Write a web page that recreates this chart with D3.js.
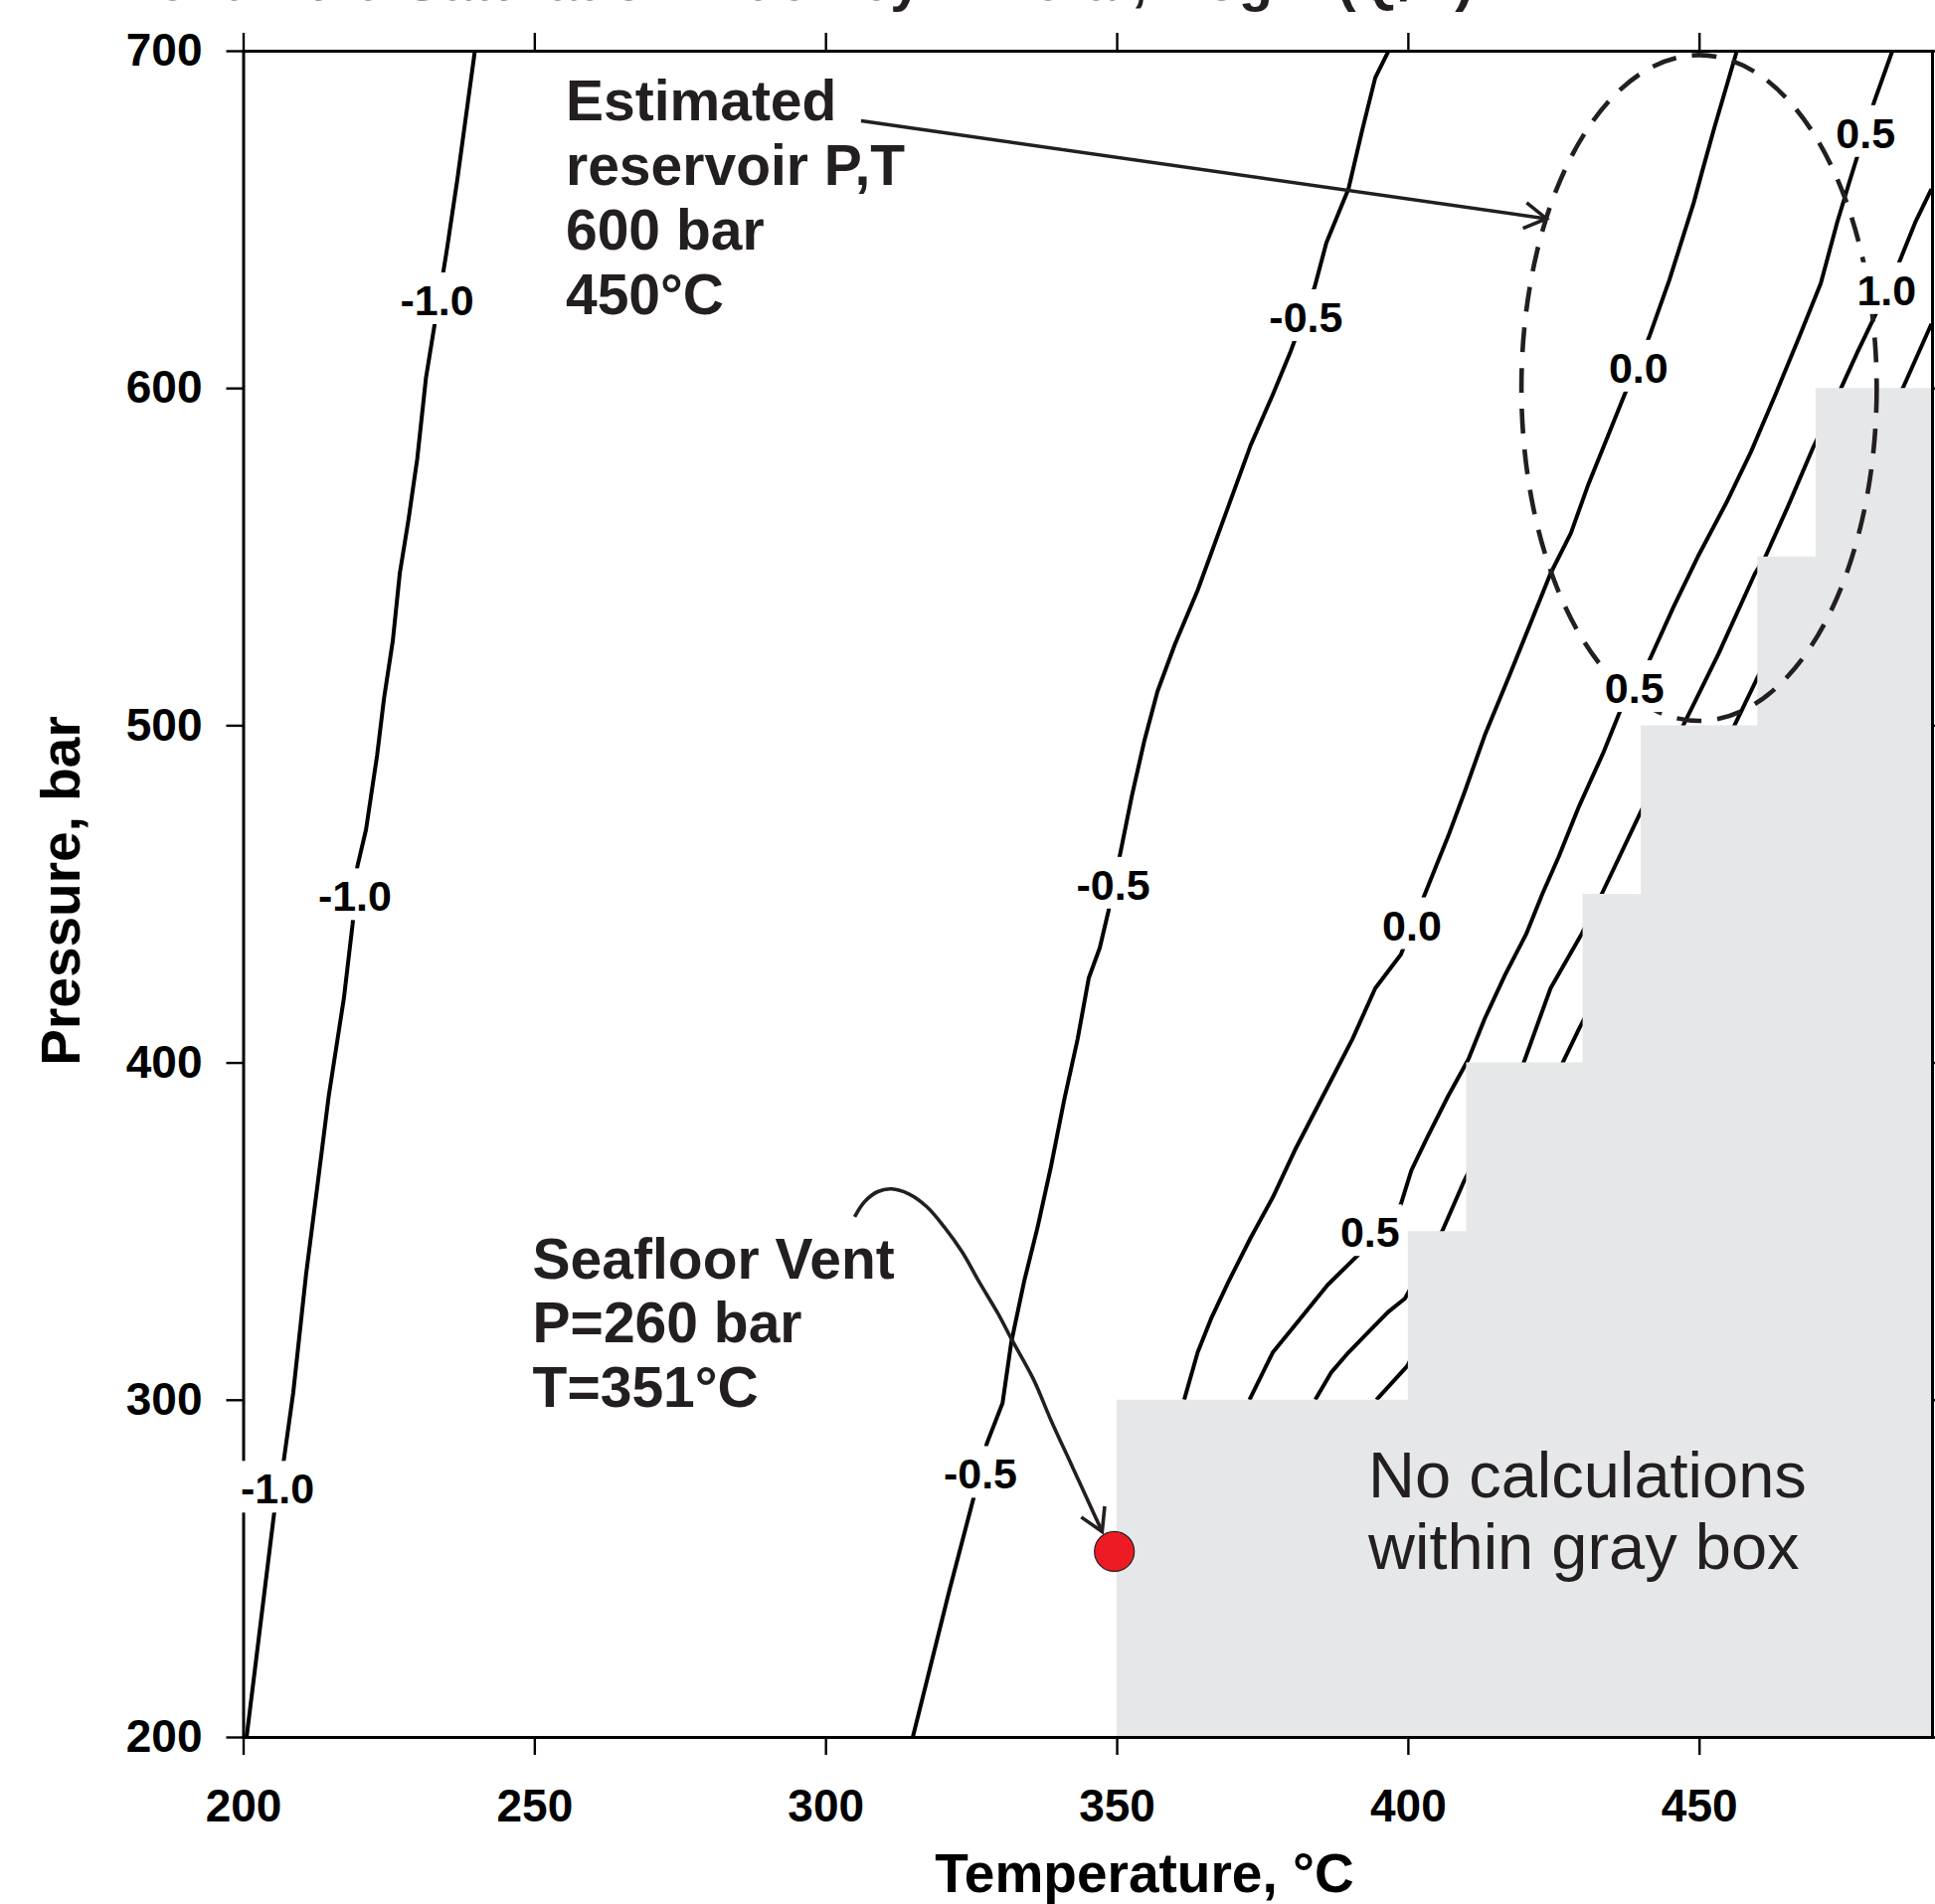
<!DOCTYPE html>
<html>
<head>
<meta charset="utf-8">
<script src="https://cdn.jsdelivr.net/npm/d3@7"></script>
<style>
  body { margin: 0; background: #fff; }
  svg { display: block; font-family: "Liberation Sans", Arial, Helvetica, sans-serif; }
</style>
</head>
<body>
<svg width="1946" height="1915"></svg>
<script>
// axis ticks
const tempTicks = [200, 250, 300, 350, 400, 450];
const pressureTicks = [200, 300, 400, 500, 600, 700];

// contour lines, points are [temperature °C, pressure bar]
const lineMinus10 = [[200.6,200],[205.3,266],[206.9,281],[208.6,302],[210.8,337],[212.8,364],[214.7,390],[217.3,419],[218.8,441],[219.6,458],[221.1,469],[223.0,491],[224.2,508],[225.7,525],[226.9,545],[228.4,561],[229.9,579],[231.4,603],[232.9,619],[234.9,640],[236.8,662],[238.3,681],[239.8,700]];
const lineMinus05 = [[315.0,200],[321.2,243],[325.6,272],[327.7,287],[330.4,299],[331.9,317],[334.1,335],[336.4,351],[338.7,369],[341.0,389],[343.3,407],[345.2,425],[347.1,434],[348.6,445],[350.5,461],[352.6,479],[354.7,495],[357.0,510],[360.0,524],[363.9,540],[369.2,565],[373.0,583],[376.8,598],[379.9,611],[384.0,630],[386.0,643],[389.8,659],[392.1,676],[394.4,692],[396.7,700]];
const lineZero = [[361.6,300],[363.9,314],[366.2,324],[369.2,335],[373.0,348],[376.8,360],[380.6,374],[386.0,392],[390.5,407],[394.4,422],[398.8,432],[402.7,449],[404.8,458],[406.9,467],[409.7,480],[413.2,497],[417.5,515],[421.0,530],[424.5,545],[428.0,557],[430.9,571],[434.4,586],[437.2,598],[441.4,615],[444.9,632],[449.1,655],[450.5,664],[452.6,677],[456.5,700]];
const lineHalf = [[372.8,300],[376.8,314],[381.5,324],[386.2,334],[392.1,344],[398.8,358],[400.6,368],[403.4,378],[406.9,390],[410.4,401],[413.2,413],[416.7,426],[420.3,438],[423.1,450],[425.9,461],[429.4,476],[433.6,492],[436.4,504],[441.4,519],[445.6,535],[449.8,550],[454.7,566],[458.9,581],[463.1,598],[467.4,616],[470.9,631],[473.7,649],[475.8,661],[480.1,685],[483.2,700]];
const lineOne = [[384.1,300],[386.8,308],[389.8,314],[393.2,320],[396.6,326],[399.5,330],[405.9,350],[409.7,365],[419.9,400],[424.5,422],[429.8,438],[433.3,450],[439.9,474],[447.3,500],[453.3,521],[459.6,545],[461.4,550],[465.3,565],[469.5,582],[474.4,600],[477.3,611],[480.1,621],[484.3,637],[487.1,649],[489.9,659]];
const lineOneHalf = [[394.6,300],[399.9,310],[426.6,400],[429.4,410],[456.1,500],[460.0,514],[485.0,600],[489.9,619]];
const contourLines = [lineMinus10, lineMinus05, lineZero, lineHalf, lineOne, lineOneHalf];

// inline contour labels: [text, T, P]
const contourLabels = [
  ["-1.0", 205.9, 273.6], ["-1.0", 219.2, 449.3], ["-1.0", 233.3, 626.0],
  ["-0.5", 326.6, 278.0], ["-0.5", 349.4, 452.7], ["-0.5", 382.5, 621.0],
  ["0.0", 400.7, 440.7], ["0.0", 439.6, 606.0],
  ["0.5", 393.5, 349.7], ["0.5", 438.9, 511.0], ["0.5", 478.6, 675.6],
  ["1.0", 482.2, 629.0]
];

// gray "no calculations" staircase: left edge of each step and its top pressure
const grayStepT   = [350, 400, 410, 430, 440, 460, 470, 490];
const grayStepTop = [300, 350, 400, 450, 500, 550, 600, 600];

// reservoir estimate (ellipse) and seafloor vent point
const reservoirCenter = [450, 600];
const reservoirSpread = [30.5, 98.7];
const ventPoint = [349.6, 255];

// annotations
const reservoirNote = ["Estimated", "reservoir P,T", "600 bar", "450°C"];
const ventNote = ["Seafloor Vent", "P=260 bar", "T=351°C"];
const grayNote = ["No calculations", "within gray box"];
const reservoirArrow = [[306.1, 679.2], [423.8, 650.2]];
const ventArrow = [[305.0,354.2],[306.7,358.7],[309.0,361.7],[311.3,362.5],[314.3,361.0],[317.4,357.2],[320.4,351.2],[323.5,343.7],[326.5,334.6],[329.6,325.6],[331.9,318.1],[335.7,306.1],[338.7,294.0],[342.5,279.7],[346.3,265.4],[347.5,260.9]];

const ink = "#231f20";

const svg = d3.select("svg");

const x = d3.scaleLinear().domain([200, 490]).range([244.5, 1943]);
const y = d3.scaleLinear().domain([200, 700]).range([1747, 51]);

const defs = svg.append("defs");
defs.append("clipPath").attr("id", "plotClip")
  .append("rect")
  .attr("x", x(200)).attr("y", y(700))
  .attr("width", x(490) - x(200)).attr("height", y(200) - y(700));

defs.append("marker")
  .attr("id", "openArrow")
  .attr("markerUnits", "userSpaceOnUse")
  .attr("viewBox", "-30 -20 34 40")
  .attr("refX", 0).attr("refY", 0)
  .attr("markerWidth", 34).attr("markerHeight", 40)
  .attr("orient", "auto")
  .append("path")
  .attr("d", "M-22,-13L0,0L-22,13")
  .attr("fill", "none")
  .attr("stroke", ink)
  .attr("stroke-width", 3.6)
  .attr("stroke-linejoin", "miter");

// title, cut off at the top edge as in the original figure
const title = svg.append("text")
  .attr("y", 0)
  .style("font-size", "56px")
  .style("font-weight", "bold")
  .style("fill", ink);
title.append("tspan").attr("x", 52).text("A. Vent Fluid Saturation Index by Mineral,");
title.append("tspan").attr("x", 1196).text("log");
title.append("tspan").attr("x", 1345).text("(Q/K)");

const plot = svg.append("g").attr("clip-path", "url(#plotClip)");

// contour lines
const lineGen = d3.line().x(d => x(d[0])).y(d => y(d[1]));
plot.selectAll("path.contour")
  .data(contourLines)
  .join("path")
  .attr("class", "contour")
  .attr("d", lineGen)
  .attr("fill", "none")
  .attr("stroke", "#000")
  .attr("stroke-width", 4)
  .attr("stroke-linejoin", "round");

// gray region drawn over the contours
const grayData = grayStepT.map((t, i) => [t, grayStepTop[i]]);
plot.append("path")
  .datum(grayData)
  .attr("d", d3.area().x(d => x(d[0])).y0(y(200)).y1(d => y(d[1])).curve(d3.curveStepAfter))
  .attr("fill", "#e6e7e8");

// dashed ellipse
plot.append("ellipse")
  .attr("cx", x(reservoirCenter[0]))
  .attr("cy", y(reservoirCenter[1]))
  .attr("rx", x(reservoirCenter[0] + reservoirSpread[0]) - x(reservoirCenter[0]))
  .attr("ry", y(reservoirCenter[1]) - y(reservoirCenter[1] + reservoirSpread[1]))
  .attr("fill", "none")
  .attr("stroke", ink)
  .attr("stroke-width", 4.6)
  .attr("stroke-dasharray", "25 16");

// axes on all four sides
function styleAxis(g) {
  g.select(".domain").attr("stroke", "#000").attr("stroke-width", 3).attr("stroke-linecap", "square");
  g.selectAll(".tick line").attr("stroke", "#000").attr("stroke-width", 2.4);
  g.selectAll(".tick text")
    .attr("fill", "#000")
    .style("font-size", "46px")
    .style("font-weight", "bold")
    .style("font-family", "'Liberation Sans', Arial, sans-serif");
}

svg.append("g")
  .attr("transform", `translate(0,${y(200)})`)
  .call(d3.axisBottom(x).tickValues(tempTicks).tickSize(18).tickSizeOuter(0).tickPadding(34).tickFormat(d3.format("d")))
  .call(styleAxis);

svg.append("g")
  .attr("transform", `translate(0,${y(700)})`)
  .call(d3.axisTop(x).tickValues(tempTicks).tickSize(18).tickSizeOuter(0).tickFormat(""))
  .call(styleAxis);

svg.append("g")
  .attr("transform", `translate(${x(200)},0)`)
  .call(d3.axisLeft(y).tickValues(pressureTicks).tickSize(17).tickSizeOuter(0).tickPadding(24).tickFormat(d3.format("d")))
  .call(styleAxis);

svg.append("g")
  .attr("transform", `translate(${x(490)},0)`)
  .call(d3.axisRight(y).tickValues(pressureTicks).tickSize(17).tickSizeOuter(0).tickFormat(""))
  .call(styleAxis);

// axis titles
svg.append("text")
  .attr("x", 1151).attr("y", 1903)
  .attr("text-anchor", "middle")
  .style("font-size", "55px").style("font-weight", "bold").style("fill", "#000")
  .text("Temperature, °C");

svg.append("text")
  .attr("transform", "translate(80,896) rotate(-90)")
  .attr("text-anchor", "middle")
  .style("font-size", "55px").style("font-weight", "bold").style("fill", "#000")
  .text("Pressure, bar");

// contour labels with a white gap behind them
const labelG = svg.append("g");
contourLabels.forEach(([txt, t, p]) => {
  const g = labelG.append("g");
  const rect = g.append("rect").attr("fill", "#fff");
  const label = g.append("text")
    .attr("x", x(t))
    .attr("y", y(p) + 15)
    .attr("text-anchor", "middle")
    .style("font-size", "43px")
    .style("font-weight", "bold")
    .style("fill", "#000")
    .text(txt);
  const bb = label.node().getBBox();
  rect.attr("x", bb.x - 2).attr("y", bb.y - 4)
    .attr("width", bb.width + 4).attr("height", bb.height + 4);
});

// arrows
svg.append("path")
  .datum(reservoirArrow)
  .attr("d", lineGen)
  .attr("fill", "none")
  .attr("stroke", ink)
  .attr("stroke-width", 3.6)
  .attr("marker-end", "url(#openArrow)");

svg.append("path")
  .datum(ventArrow)
  .attr("d", d3.line().x(d => x(d[0])).y(d => y(d[1])).curve(d3.curveCatmullRom))
  .attr("fill", "none")
  .attr("stroke", ink)
  .attr("stroke-width", 3.6)
  .attr("marker-end", "url(#openArrow)");

// vent point
svg.append("circle")
  .attr("cx", x(ventPoint[0]))
  .attr("cy", y(ventPoint[1]))
  .attr("r", 20)
  .attr("fill", "#ed1c24")
  .attr("stroke", ink)
  .attr("stroke-width", 1.2);

// text notes
function note(lines, at, step, size, weight) {
  svg.append("g").selectAll("text")
    .data(lines)
    .join("text")
    .attr("x", x(at[0]))
    .attr("y", (d, i) => y(at[1]) + i * step)
    .style("font-size", size + "px")
    .style("font-weight", weight)
    .style("fill", ink)
    .text(d => d);
}
note(reservoirNote, [255.4, 679.4], 65, 57, "bold");
note(ventNote, [249.7, 336.0], 64.5, 57, "bold");
note(grayNote, [393.2, 271.0], 72, 65, "normal");
</script>
</body>
</html>
